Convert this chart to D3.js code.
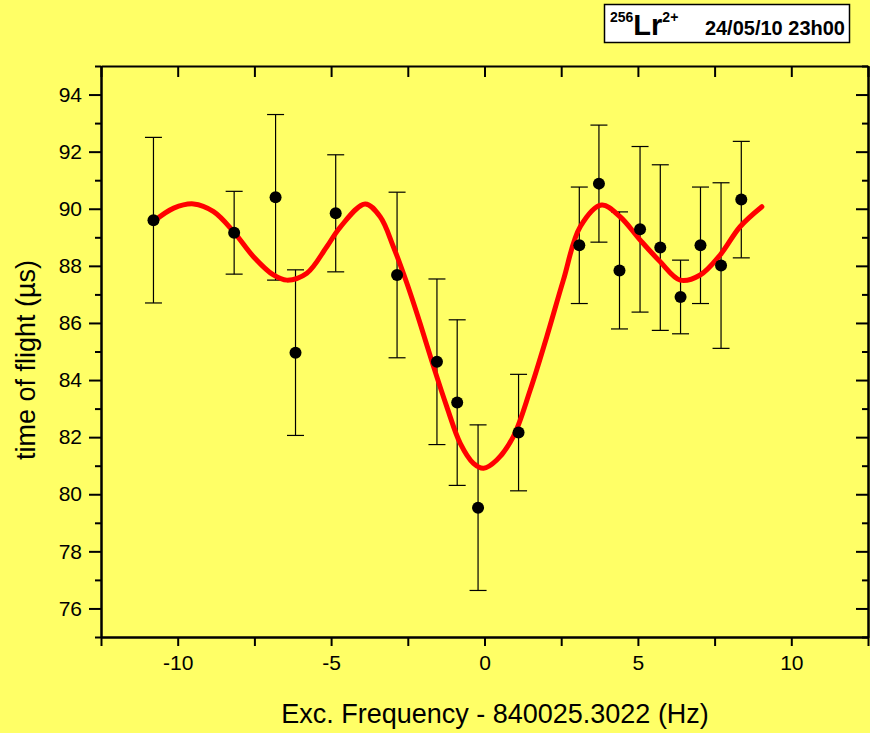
<!DOCTYPE html>
<html>
<head>
<meta charset="utf-8">
<script src="https://cdn.jsdelivr.net/npm/d3@7"></script>
<style>
    body { margin: 0; background: #ffff66; }
    svg { display: block; font-family: "Liberation Sans", Arial, sans-serif; }
</style>
</head>
<body>
<div id="chart"></div>
<script>
// measured points: excitation frequency offset (Hz), time of flight (us), error
var freqs = [-10.79, -8.16, -6.81, -6.16, -4.85, -2.85, -1.55, -0.89, -0.21, 1.11,
             3.09, 3.73, 4.40, 5.07, 5.73, 6.39, 7.04, 7.71, 8.37];
var tofs = [89.60, 89.16, 90.40, 84.96, 89.84, 87.68, 84.64, 83.21, 79.53, 82.16,
            88.72, 90.88, 87.84, 89.28, 88.64, 86.91, 88.72, 88.01, 90.32];
var errs = [2.90, 1.45, 2.90, 2.90, 2.05, 2.90, 2.90, 2.90, 2.90, 2.04,
            2.04, 2.05, 2.05, 2.90, 2.90, 1.29, 2.04, 2.90, 2.04];

// fitted curve
var fitFreq = [-10.79, -10.13, -9.48, -8.83, -8.18, -7.53, -6.88, -6.44, -5.79, -5.14,
               -4.70, -3.89, -3.40, -2.97, -2.53, -2.10, -1.66, -1.23, -0.79, -0.36,
               -0.03, 0.40, 0.94, 1.49, 2.03, 2.57, 3.12, 3.82, 4.42, 5.07,
               5.72, 6.38, 7.03, 7.68, 8.33, 9.04];
var fitTof = [89.55, 90.02, 90.17, 89.90, 89.20, 88.32, 87.68, 87.50, 87.74, 88.67,
              89.36, 90.17, 89.72, 88.67, 87.39, 85.99, 84.47, 83.07, 81.78, 81.08,
              80.91, 81.20, 82.02, 83.65, 85.52, 87.50, 89.37, 90.13, 89.72, 88.91,
              88.15, 87.50, 87.68, 88.38, 89.37, 90.07];

var xTicks = [-10, -5, 0, 5, 10];
var xMinor = [-12.5, -7.5, -2.5, 2.5, 7.5, 12.5];
var yTicks = [76, 78, 80, 82, 84, 86, 88, 90, 92, 94];
var yMinor = [75, 77, 79, 81, 83, 85, 87, 89, 91, 93, 95];

var svgWidth = 870;
var svgHeight = 733;
var margin = { top: 66, right: 2, bottom: 96, left: 101 };
var width = svgWidth - margin.left - margin.right;
var height = svgHeight - margin.top - margin.bottom;

var svg = d3.select("#chart")
    .append("svg")
    .attr("width", svgWidth)
    .attr("height", svgHeight);

svg.append("rect")
    .attr("width", svgWidth)
    .attr("height", svgHeight)
    .attr("fill", "#ffff66");

var chartGroup = svg.append("g")
    .attr("transform", `translate(${margin.left}, ${margin.top})`);

// scales
var xScale = d3.scaleLinear().domain([-12.5, 12.5]).range([0, width]);
var yScale = d3.scaleLinear().domain([75, 95]).range([height, 0]);

// plain hyphen for negatives, like the original
var plain = function(d) { return String(d); };

function styleAxis(g) {
    g.selectAll("path").attr("stroke", "#000").attr("stroke-width", 2);
    g.selectAll("line").attr("stroke", "#000").attr("stroke-width", 2);
    g.selectAll("text")
        .attr("fill", "#000")
        .style("font-size", "21px")
        .style("font-family", "'Liberation Sans', Arial, sans-serif");
}

// bottom axis (outward ticks)
chartGroup.append("g")
    .attr("transform", `translate(0, ${height})`)
    .call(d3.axisBottom(xScale).tickValues(xTicks).tickSize(9).tickSizeOuter(0)
        .tickPadding(9).tickFormat(plain))
    .call(styleAxis);
chartGroup.append("g")
    .attr("transform", `translate(0, ${height})`)
    .call(d3.axisBottom(xScale).tickValues(xMinor).tickSize(9).tickSizeOuter(0).tickFormat(""))
    .call(styleAxis);

// top axis (inward ticks)
chartGroup.append("g")
    .call(d3.axisTop(xScale).tickValues(xTicks.concat(xMinor)).tickSize(-11).tickSizeOuter(0).tickFormat(""))
    .call(styleAxis);

// left axis (outward ticks)
chartGroup.append("g")
    .call(d3.axisLeft(yScale).tickValues(yTicks).tickSize(12).tickSizeOuter(0)
        .tickPadding(7).tickFormat(plain))
    .call(styleAxis);
chartGroup.append("g")
    .call(d3.axisLeft(yScale).tickValues(yMinor).tickSize(6).tickSizeOuter(0).tickFormat(""))
    .call(styleAxis);

// right axis (inward ticks)
chartGroup.append("g")
    .attr("transform", `translate(${width}, 0)`)
    .call(d3.axisRight(yScale).tickValues(yTicks).tickSize(-12).tickSizeOuter(0).tickFormat(""))
    .call(styleAxis);
chartGroup.append("g")
    .attr("transform", `translate(${width}, 0)`)
    .call(d3.axisRight(yScale).tickValues(yMinor).tickSize(-6).tickSizeOuter(0).tickFormat(""))
    .call(styleAxis);

var points = freqs.map(function(f, i) {
    return { freq: f, tof: tofs[i], err: errs[i] };
});

// error bars
var bars = chartGroup.selectAll(".errbar")
    .data(points)
    .enter()
    .append("g")
    .attr("class", "errbar")
    .attr("stroke", "#000")
    .attr("stroke-width", 1.2);

bars.append("line")
    .attr("x1", function(d) { return xScale(d.freq); })
    .attr("x2", function(d) { return xScale(d.freq); })
    .attr("y1", function(d) { return yScale(d.tof + d.err); })
    .attr("y2", function(d) { return yScale(d.tof - d.err); });

bars.append("line")
    .attr("x1", function(d) { return xScale(d.freq) - 8.5; })
    .attr("x2", function(d) { return xScale(d.freq) + 8.5; })
    .attr("y1", function(d) { return yScale(d.tof + d.err); })
    .attr("y2", function(d) { return yScale(d.tof + d.err); });

bars.append("line")
    .attr("x1", function(d) { return xScale(d.freq) - 8.5; })
    .attr("x2", function(d) { return xScale(d.freq) + 8.5; })
    .attr("y1", function(d) { return yScale(d.tof - d.err); })
    .attr("y2", function(d) { return yScale(d.tof - d.err); });

// fit curve
var fitLine = d3.line()
    .x(function(d) { return xScale(d[0]); })
    .y(function(d) { return yScale(d[1]); })
    .curve(d3.curveCatmullRom.alpha(0.5));

chartGroup.append("path")
    .datum(d3.zip(fitFreq, fitTof))
    .attr("d", fitLine)
    .attr("fill", "none")
    .attr("stroke", "#ff0000")
    .attr("stroke-width", 5)
    .attr("stroke-linecap", "round")
    .attr("stroke-linejoin", "round");

// data points
chartGroup.selectAll("circle")
    .data(points)
    .enter()
    .append("circle")
    .attr("cx", function(d) { return xScale(d.freq); })
    .attr("cy", function(d) { return yScale(d.tof); })
    .attr("r", 6)
    .attr("fill", "#000");

// axis titles
svg.append("text")
    .attr("x", 495)
    .attr("y", 723)
    .attr("text-anchor", "middle")
    .style("font-size", "27px")
    .text("Exc. Frequency - 840025.3022 (Hz)");

svg.append("text")
    .attr("transform", "translate(35, 360) rotate(-90)")
    .attr("text-anchor", "middle")
    .style("font-size", "27px")
    .text("time of flight (\u00b5s)");

// label box, top right
svg.append("rect")
    .attr("x", 604.5)
    .attr("y", 4.5)
    .attr("width", 245)
    .attr("height", 38)
    .attr("fill", "#fff")
    .attr("stroke", "#000")
    .attr("stroke-width", 1.5);

var label = svg.append("text")
    .attr("x", 610)
    .attr("y", 35)
    .style("font-weight", "bold");
label.append("tspan").attr("dy", -13).style("font-size", "14px").text("256");
label.append("tspan").attr("dy", 13).style("font-size", "29px").text("Lr");
label.append("tspan").attr("dy", -13).style("font-size", "14px").text("2+");

svg.append("text")
    .attr("x", 845)
    .attr("y", 35)
    .attr("text-anchor", "end")
    .style("font-weight", "bold")
    .style("font-size", "20px")
    .text("24/05/10 23h00");
</script>
</body>
</html>
